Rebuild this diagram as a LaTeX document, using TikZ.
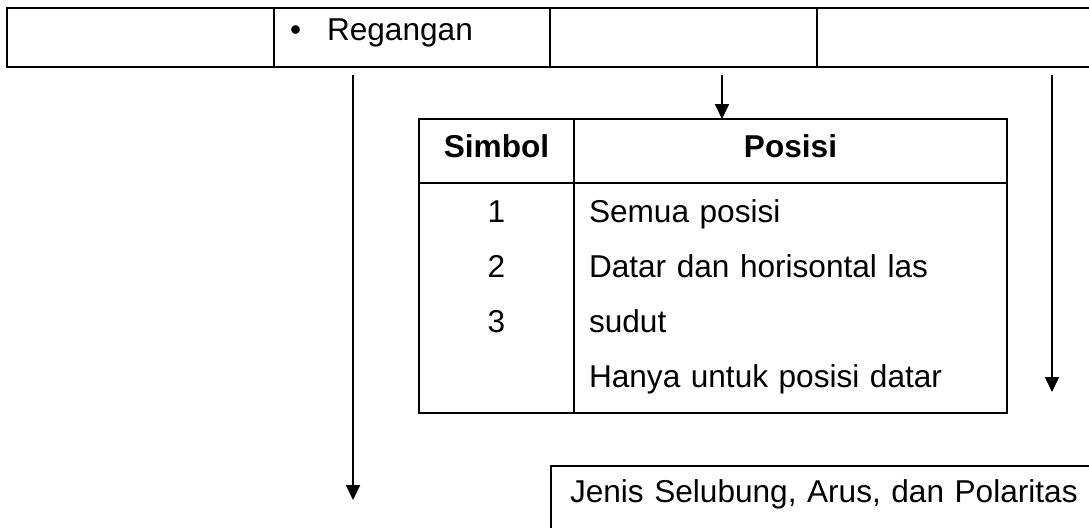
\documentclass[tikz,border=0pt]{standalone}
\usepackage{fontspec}
\setmainfont{Liberation Sans}
\usetikzlibrary{arrows.meta, positioning, calc}
\tikzset{
  cellbox/.style={draw=black, rectangle, line width=1pt, inner sep=0pt, outer sep=0pt, anchor=north west, font=\fontsize{15.8}{19}\selectfont},
  headbox/.style={cellbox, text height=19pt, text depth=13pt, align=center},
  bodybox/.style={cellbox, text height=19.5pt, text depth=95.5pt, font=\fontsize{15.8}{27.5}\selectfont},
  arrow/.style={-{Triangle[length=7.5pt, width=7pt]}, line width=1pt, draw=black}
}

\begin{document}
\begin{tikzpicture}[x=0.5pt, y=-0.5pt]
\useasboundingbox (0,0) rectangle (1089,527);

% top row
\node[cellbox, minimum width=133.5pt, minimum height=29.5pt] (rowA) at (7,8) {};
\node[cellbox, text width=122pt, inner xsep=8pt, text height=16pt, text depth=13.5pt, align=left] (rowB) at (rowA.north east) {•\hspace{13pt}Regangan};
\node[cellbox, minimum width=133.5pt, minimum height=29.5pt] (rowC) at (rowB.north east) {};
\node[cellbox, minimum width=141.5pt, minimum height=29.5pt] (rowD) at (rowC.north east) {};

% table of positions
\node[headbox, minimum width=77.5pt] (simbolHead) at (419,119) {\textbf{Simbol}};
\node[headbox, minimum width=216.5pt] (posisiHead) at (simbolHead.north east) {\textbf{Posisi}};
\node[bodybox, text width=77.5pt, align=center] (simbolBody) at (simbolHead.south west) {1\\2\\3};
\node[bodybox, text width=201.5pt, inner xsep=7.5pt, align=left] (posisiBody) at (posisiHead.south west) {Semua posisi\\Datar dan horisontal las\\sudut\\Hanya untuk posisi datar};

% bottom box
\node[cellbox, text width=260pt, inner xsep=9.5pt, text height=18pt, text depth=20pt, align=left] (jenisBox) at (551,466) {Jenis Selubung, Arus, dan Polaritas};

\coordinate (leftTop) at (353,75);
\coordinate (leftEnd) at (353,500);
\coordinate (midTop) at (722,75);
\coordinate (rightTop) at (1052,75);
\coordinate (rightEnd) at (1052,392);

\draw[arrow] (leftTop) -- (leftEnd);
\draw[arrow] (midTop) -- (midTop |- posisiHead.north);
\draw[arrow] (rightTop) -- (rightEnd);

\end{tikzpicture}
\end{document}
